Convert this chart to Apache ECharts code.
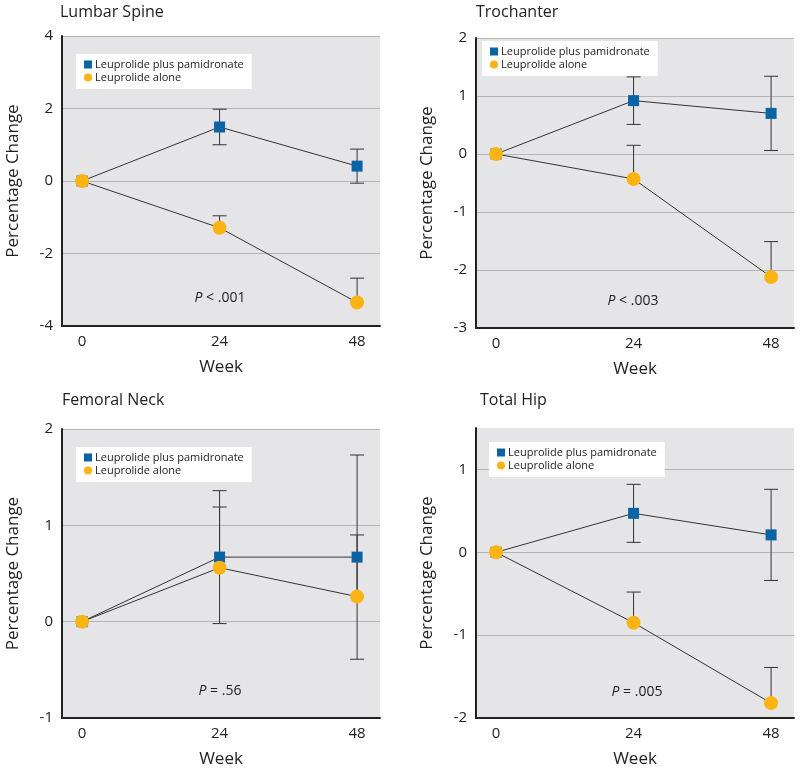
<!DOCTYPE html>
<html>
<head>
<meta charset="utf-8">
<script src="https://cdn.jsdelivr.net/npm/echarts@6/dist/echarts.min.js"></script>
<style>html,body{margin:0;padding:0;background:#fff}#c{width:800px;height:770px}</style>
</head>
<body>
<div id="c"></div>
<script>
// ---- data ----
const weeks = [0, 24, 48];
const weekTicks = [0, 24, 48];
const seriesNames = ['Leuprolide plus pamidronate', 'Leuprolide alone'];
const panelTitles = ['Lumbar Spine', 'Trochanter', 'Femoral Neck', 'Total Hip'];
const pValues = ['< .001', '< .003', '= .56', '= .005'];

const lumbarPlus = [0, 1.49, 0.41];
const lumbarPlusErr = [0, 0.49, 0.47];
const lumbarAlone = [0, -1.29, -3.35];
const lumbarAloneErr = [0, 0.33, 0.67];
const lumbarTicks = [-4, -2, 0, 2, 4];

const trochPlus = [0, 0.92, 0.70];
const trochPlusErr = [0, 0.41, 0.64];
const trochAlone = [0, -0.43, -2.12];
const trochAloneErr = [0, 0.58, 0.61];
const trochTicks = [-3, -2, -1, 0, 1, 2];

const femPlus = [0, 0.67, 0.67];
const femPlusErr = [0, 0.69, 1.06];
const femAlone = [0, 0.56, 0.26];
const femAloneErr = [0, 0.63, 0.64];
const femTicks = [-1, 0, 1, 2];

const hipPlus = [0, 0.47, 0.21];
const hipPlusErr = [0, 0.35, 0.55];
const hipAlone = [0, -0.85, -1.82];
const hipAloneErr = [0, 0.37, 0.43];
const hipTicks = [-2, -1, 0, 1];

// ---- layout / style ----
const FONT = 'Open Sans';
const BLUE = '#0a63a3';
const ORANGE = '#fcb415';
const TEXT = '#222';
const grids = [
  {left: 62, top: 36, width: 318, height: 290},
  {left: 476, top: 38, width: 318, height: 290},
  {left: 62, top: 429, width: 318, height: 289},
  {left: 476, top: 428, width: 318, height: 290}
];
const yRanges = [[-4, 4], [-3, 2], [-1, 2], [-2, 1.5]];
const yTickSets = [lumbarTicks, trochTicks, femTicks, hipTicks];
const plusSets = [lumbarPlus, trochPlus, femPlus, hipPlus];
const plusErrSets = [lumbarPlusErr, trochPlusErr, femPlusErr, hipPlusErr];
const aloneSets = [lumbarAlone, trochAlone, femAlone, hipAlone];
const aloneErrSets = [lumbarAloneErr, trochAloneErr, femAloneErr, hipAloneErr];
const titlePos = [[60, 4], [476, 4], [62, 392], [480, 392]];
const legendPos = [[76, 54], [482, 41], [76, 447], [489, 442]];
const pPos = [[220, 298], [633, 301], [220, 691], [637, 692]];

function errRender(params, api) {
  const x = api.value(0), lo = api.value(2), hi = api.value(3), y = api.value(1);
  if (hi === lo) return null;
  const pHi = api.coord([x, hi]);
  const pLo = api.coord([x, lo]);
  const style = {stroke: '#333', lineWidth: 1};
  const children = [
    {type: 'line', shape: {x1: pHi[0], y1: pHi[1], x2: pLo[0], y2: pLo[1]}, style},
    {type: 'line', shape: {x1: pHi[0] - 7, y1: pHi[1], x2: pHi[0] + 7, y2: pHi[1]}, style}
  ];
  if (lo !== y) children.push({type: 'line', shape: {x1: pLo[0] - 7, y1: pLo[1], x2: pLo[0] + 7, y2: pLo[1]}, style});
  return {type: 'group', children};
}

const option = {
  animation: false,
  backgroundColor: '#fff',
  textStyle: {fontFamily: FONT},
  title: panelTitles.map((t, i) => ({
    text: t, left: titlePos[i][0], top: titlePos[i][1], padding: 0,
    textStyle: {fontFamily: FONT, fontSize: 16, fontWeight: 'normal', color: TEXT}
  })),
  legend: legendPos.map((p, i) => ({
    left: p[0], top: p[1], orient: 'vertical', backgroundColor: '#fff',
    padding: [5, 8, 6, 8], itemGap: 2, itemWidth: 8, itemHeight: 8,
    selectedMode: false,
    textStyle: {fontFamily: FONT, fontSize: 11, color: TEXT, padding: [0, 0, 0, -2]},
    data: [
      {name: seriesNames[0], icon: 'rect', itemStyle: {color: BLUE}},
      {name: seriesNames[1], icon: 'circle', itemStyle: {color: ORANGE}}
    ]
  })),
  grid: grids.map(g => Object.assign({show: true, backgroundColor: '#e5e5e7', borderWidth: 0}, g)),
  xAxis: grids.map((g, i) => ({
    type: 'value', gridIndex: i, min: -3.5, max: 52,
    name: 'Week', nameLocation: 'middle', nameGap: 33,
    nameTextStyle: {fontFamily: FONT, fontSize: 17, color: TEXT},
    axisLine: {show: true, onZero: false, lineStyle: {color: '#222', width: 2}},
    axisTick: {show: false, customValues: weekTicks},
    axisLabel: {customValues: weekTicks, fontFamily: FONT, fontSize: 15, color: TEXT, margin: 8},
    splitLine: {show: false}
  })),
  yAxis: grids.map((g, i) => ({
    type: 'value', gridIndex: i, min: yRanges[i][0], max: yRanges[i][1],
    name: 'Percentage Change', nameLocation: 'middle', nameGap: 40,
    nameTextStyle: {fontFamily: FONT, fontSize: 17, color: TEXT},
    axisLine: {show: true, onZero: false, lineStyle: {color: '#222', width: 2}},
    axisTick: {show: false, customValues: yTickSets[i]},
    axisLabel: {customValues: yTickSets[i], fontFamily: FONT, fontSize: 15, color: TEXT, margin: 9},
    splitLine: {show: true, lineStyle: {color: '#b4b4b6', width: 1}}
  })),
  graphic: pPos.map((p, i) => ({
    type: 'text', x: p[0], y: p[1],
    style: {
      text: '{i|P} ' + pValues[i],
      x: 0, y: 0, align: 'center', verticalAlign: 'middle',
      font: '14px "' + FONT + '"', fill: TEXT,
      rich: {i: {fontStyle: 'italic', fontSize: 14, fontFamily: FONT, fill: TEXT}}
    }
  })),
  series: []
};

grids.forEach((g, i) => {
  const plus = plusSets[i], plusErr = plusErrSets[i];
  const alone = aloneSets[i], aloneErr = aloneErrSets[i];
  option.series.push({
    type: 'custom', xAxisIndex: i, yAxisIndex: i, z: 1, silent: true,
    renderItem: errRender,
    data: weeks.map((w, k) => [w, plus[k], plus[k] - plusErr[k], plus[k] + plusErr[k]])
  });
  option.series.push({
    type: 'custom', xAxisIndex: i, yAxisIndex: i, z: 1, silent: true,
    renderItem: errRender,
    data: weeks.map((w, k) => [w, alone[k], alone[k], alone[k] + aloneErr[k]])
  });
  option.series.push({
    type: 'line', name: seriesNames[0], xAxisIndex: i, yAxisIndex: i, z: 2,
    symbol: 'rect', symbolSize: 11, showAllSymbol: true,
    itemStyle: {color: BLUE, opacity: 1},
    lineStyle: {color: '#333', width: 1},
    emphasis: {disabled: true},
    data: weeks.map((w, k) => [w, plus[k]])
  });
  option.series.push({
    type: 'line', name: seriesNames[1], xAxisIndex: i, yAxisIndex: i, z: 3,
    symbol: 'circle', symbolSize: 14, showAllSymbol: true,
    itemStyle: {color: ORANGE, opacity: 1},
    lineStyle: {color: '#333', width: 1},
    emphasis: {disabled: true},
    data: weeks.map((w, k) => [w, alone[k]])
  });
});

const chart = echarts.init(document.getElementById('c'), null, {renderer: 'canvas'});
chart.setOption(option);
</script>
</body>
</html>
